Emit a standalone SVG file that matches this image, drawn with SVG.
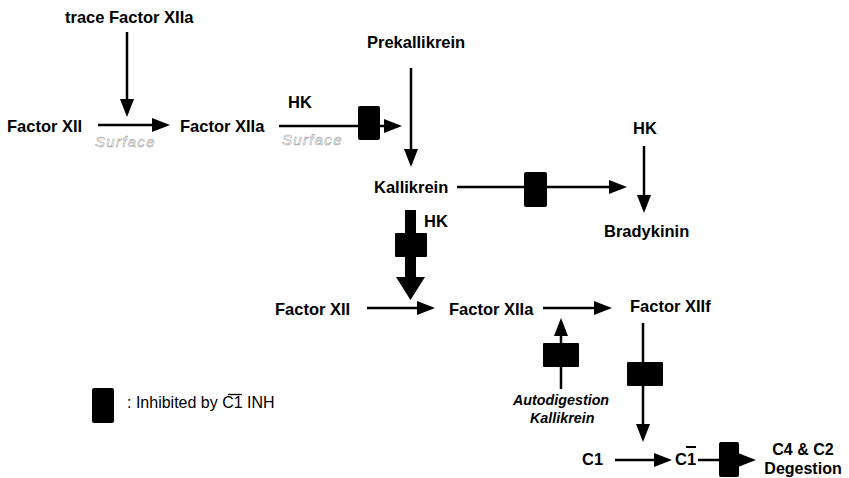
<svg xmlns="http://www.w3.org/2000/svg" width="849" height="478" viewBox="0 0 849 478">
<style>
.lbl{font-family:"Liberation Sans",Arial,sans-serif;font-weight:bold;font-size:16.5px;fill:#000}
.it{font-family:"Liberation Sans",Arial,sans-serif;font-weight:bold;font-style:italic;font-size:14.3px;fill:#000}
.surf{font-family:"Liberation Sans",Arial,sans-serif;font-style:italic;font-size:15px;letter-spacing:1.3px;fill:#fff;stroke:#999;stroke-width:0.5}
.leg{font-family:"Liberation Sans",Arial,sans-serif;font-size:16px;fill:#000}
.ln{stroke:#000;stroke-width:2.5;fill:none;marker-end:url(#ah)}
.box{fill:#000;stroke:none}
</style>
<defs>
<marker id="ah" markerUnits="userSpaceOnUse" markerWidth="20" markerHeight="16" refX="14" refY="7" orient="auto">
<path d="M0,0 L18,7 L0,14 z" fill="#000"/>
</marker>
</defs>
<rect width="849" height="478" fill="#fff"/>

<g id="connectors">
<line class="ln" x1="127" y1="32" x2="127" y2="113"/>
<line class="ln" x1="98" y1="125" x2="166" y2="125"/>
<line class="ln" x1="279" y1="126" x2="398" y2="126"/>
<rect class="box" x="358" y="106" width="22" height="34" rx="2"/>
<line class="ln" x1="411" y1="68" x2="411" y2="163"/>
<line class="ln" x1="457" y1="187" x2="623" y2="187"/>
<rect class="box" x="524" y="172" width="23" height="35" rx="2"/>
<line class="ln" x1="644" y1="146" x2="644" y2="209"/>
<path class="box" d="M405,210 H416 V277 H425 L410.5,300 L396,277 H405 Z"/>
<rect class="box" x="395" y="233" width="32" height="24" rx="1"/>
<line class="ln" x1="367" y1="308" x2="431" y2="308"/>
<line class="ln" x1="543" y1="308" x2="608" y2="308"/>
<line class="ln" x1="561" y1="389" x2="561" y2="322"/>
<rect class="box" x="543" y="343" width="36" height="24" rx="1"/>
<line class="ln" x1="643" y1="323" x2="643" y2="438"/>
<rect class="box" x="627" y="362" width="36" height="24" rx="1"/>
<line class="ln" x1="615" y1="460" x2="668" y2="460"/>
<line class="ln" x1="698" y1="460" x2="752" y2="460"/>
<rect class="box" x="719" y="442" width="20" height="35" rx="2"/>
</g>

<g id="n-trace"><text class="lbl" x="65" y="23">trace Factor XIIa</text></g>
<g id="n-fxii-1"><text class="lbl" x="7" y="132">Factor XII</text></g>
<g id="l-surface-1"><text class="surf" x="95" y="147">Surface</text></g>
<g id="n-fxiia-1"><text class="lbl" x="180" y="132">Factor XIIa</text></g>
<g id="l-hk-1"><text class="lbl" x="288" y="108">HK</text></g>
<g id="l-surface-2"><text class="surf" x="282" y="145">Surface</text></g>
<g id="n-prekallikrein"><text class="lbl" x="367" y="48">Prekallikrein</text></g>
<g id="n-kallikrein"><text class="lbl" x="374" y="193">Kallikrein</text></g>
<g id="l-hk-2"><text class="lbl" x="633" y="134">HK</text></g>
<g id="n-bradykinin"><text class="lbl" x="604" y="237">Bradykinin</text></g>
<g id="l-hk-3"><text class="lbl" x="424" y="227">HK</text></g>
<g id="n-fxii-2"><text class="lbl" x="275" y="315">Factor XII</text></g>
<g id="n-fxiia-2"><text class="lbl" x="449" y="315">Factor XIIa</text></g>
<g id="n-fxiif"><text class="lbl" x="630" y="312">Factor XIIf</text></g>
<g id="n-autodigestion"><text class="it" x="513" y="405">Autodigestion</text><text class="it" x="530" y="423">Kallikrein</text></g>
<g id="n-c1"><text class="lbl" x="582" y="465">C1</text></g>
<g id="n-c1bar"><text class="lbl" x="675" y="465">C1</text><line x1="686" y1="447" x2="696" y2="447" stroke="#000" stroke-width="2"/></g>
<g id="n-c4c2"><text class="lbl" x="803" y="455" text-anchor="middle" style="font-size:16px">C4 &amp; C2</text><text class="lbl" x="803" y="474" text-anchor="middle" style="font-size:16px">Degestion</text></g>

<g id="legend">
<rect class="box" x="92" y="388" width="22" height="35" rx="2"/>
<text class="leg" x="127" y="408">: Inhibited by C1 INH</text>
<line x1="228" y1="394.5" x2="242" y2="394.5" stroke="#000" stroke-width="1.3"/>
</g>
</svg>
